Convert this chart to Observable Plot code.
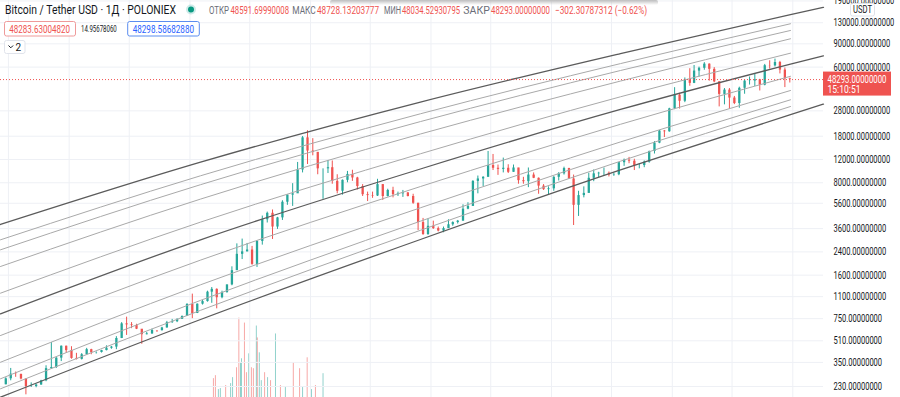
<!DOCTYPE html>
<html><head><meta charset="utf-8">
<script src="https://cdn.jsdelivr.net/npm/d3@7"></script>
<script src="https://cdn.jsdelivr.net/npm/@observablehq/plot@0.6"></script>
<style>
html,body{margin:0;padding:0;background:#fff;}
#wrap{position:relative;width:900px;height:397px;overflow:hidden;}
#wrap svg{position:absolute;left:0;top:0;}
</style></head><body><div id="wrap"></div>
<script>
// ---- semi-monthly candles, from 2015 Jun (2nd half) to 2021 Dec (2nd half), USDT ----
const firstOpen = 237;
const closes = [
 263,285,284,262,230,230,236,254,314,320,377,464,430,
 375,369,400,437,415,416,430,448,457,531,685,673,665,624,567,575,610,608,638,700,711,742,780,960,
 820,965,1010,1190,1250,1080,1180,1350,1730,2300,2400,2480,1930,2880,4200,4700,3700,4340,5700,6450,6600,10000,17500,13900,
 13600,10200,10200,10400,8200,6900,8350,9250,8700,7500,6500,6400,6350,7750,6300,7000,6500,6600,6700,6300,5600,4000,3250,3750,
 3600,3450,3600,3850,4000,4100,5050,5300,8200,8550,8800,10800,10300,10100,10300,9600,10350,8300,8150,9150,8650,7550,7100,7200,
 8800,9350,10250,8550,5400,6400,6650,8650,9350,9450,9450,9150,9200,11350,11850,11650,10800,10800,11450,13800,15950,19700,19450,29000,
 36800,33100,47900,45200,56000,58800,63200,57700,46400,37300,40200,35000,31800,41500,47000,47100,48100,43800,61500,61300,65000,57000,48900,48293
];
const highs = [
 268,315,296,285,262,245,240,256,330,495,380,466,465,
 460,410,408,447,440,420,432,467,462,548,700,770,700,680,620,590,625,610,645,715,740,745,785,975,
 1150,970,1030,1210,1290,1260,1210,1350,1850,2760,3000,2780,2640,2900,4480,4800,4980,4380,5850,6480,7880,11400,17900,19800,
 17250,13000,10200,11800,11700,9200,8400,9750,9950,8800,7750,6800,6800,8500,7750,7150,7400,6800,7000,6750,6550,5600,4300,4250,
 4100,3700,3700,4200,4050,4150,5450,5650,8300,9000,8900,13800,13100,10900,12300,10950,10900,10300,8800,10350,9500,8700,7750,7450,
 8900,9550,10500,10300,9150,6900,7450,9450,10000,9600,10350,9650,9450,11400,12100,12450,12050,11100,11700,13900,16400,19900,19900,29300,
 41950,38000,49700,58350,61700,60000,64850,63500,59500,46600,41300,41300,36000,42300,48100,50500,52900,48500,62900,67000,69000,66300,59100,49500
];
const lows = [
 237,254,270,258,199,226,225,235,250,310,315,355,410,
 370,365,365,400,400,405,412,428,440,437,530,560,630,620,480,565,570,590,605,635,690,700,740,780,
 750,820,950,1000,980,890,1060,1170,1330,1850,2100,2400,1900,1830,2700,3970,2980,3550,4150,5400,5300,7000,9500,11000,
 12800,9200,6000,9400,7800,6600,6450,8000,8200,7050,6300,5770,6100,6300,5880,6250,6150,6300,6200,6250,5500,3480,3200,3200,
 3550,3400,3350,3600,3750,3900,4100,5000,5300,6600,7500,8800,9900,9100,9500,9400,9600,7800,7800,7350,8600,6550,7000,6450,
 6900,8250,9150,8500,3800,4450,6150,6650,8150,8700,8950,8850,8950,9050,10650,11150,9900,10200,10400,11250,13200,15800,17600,19300,
 28600,28900,32300,43000,45000,50500,56800,47000,45700,30000,31100,28800,31200,29300,37400,43900,42800,39600,43300,58000,60100,53300,42000,45500
];

// ---- volume bars (relative units) ----
const volDates = ["2017-03-13","2017-03-19","2017-03-28","2017-04-03","2017-04-19","2017-05-04","2017-05-10","2017-05-22","2017-05-29","2017-06-03","2017-06-06","2017-06-15","2017-06-21","2017-06-28","2017-07-06","2017-07-12","2017-07-21","2017-07-24","2017-07-30","2017-08-05","2017-08-15","2017-08-24","2017-09-02","2017-09-17","2017-10-02","2017-10-17","2017-11-10","2017-11-29","2017-12-08","2017-12-22","2018-01-04","2018-01-16","2018-02-08"];
const volValues = [19,22,8,9,12,14,20,30,80,35,39,75,25,44,30,29,72,60,45,17,25,20,17,64,12,10,35,29,10,40,8,12,24];
const volUp = [0,0,1,1,0,1,1,0,0,1,1,0,0,1,0,0,1,0,1,1,0,1,0,1,0,1,0,0,1,0,1,0,1];

// ---- channel lines: prices read at anchor dates ----
const anchorDates = ["2015-06-07","2017-02-02","2018-11-30","2020-07-28","2021-12-25","2022-04-04"];
const topLine = [3870, 11450, 32670, 76040, 149800, 169900];
const midLine = [816, 2962, 10170, 28680, 63150, 73080];
const botLine = [190.9, 739, 2978, 9996, 26240, 31510];
const up1 = [2962, 9037, 26610, 63790, 127700];
const up2 = [2488, 7740, 23230, 56560, 113600];
const up3 = [1861, 6022, 18710, 47050, 98320];
const up4 = [1169, 4032, 13260, 35780, 76500];
const lo1 = [559, 2080, 7490, 22160, 51130];
const lo2 = [351, 1353, 5173, 16300, 39930];
const lo3 = [263, 1031, 4096, 13420, 33960];
const lo4 = [221, 867, 3495, 11650, 30210];

// ---- axis ticks ----
const yTicks = [190000,130000,90000,60000,28000,18000,12000,8000,5600,3600,2400,1600,1100,750,510,350,230];
const lastPrice = 48293;

const UP = "#26a69a", DOWN = "#ef5350";
const W = 900, H = 397, PR = 823;
const t0 = new Date("2015-06-07"), t1 = new Date("2022-04-04");

const candles = closes.map((c, i) => {
  const k = i + 1;
  const m = d3.utcMonth.offset(new Date(Date.UTC(2015, 5, 1)), Math.floor(k / 2));
  const date = d3.utcDay.offset(m, k % 2 ? 22 : 7);
  const open = i ? closes[i - 1] : firstOpen;
  return {date, open, close: c, high: highs[i], low: lows[i], up: c >= open};
});
const volRows = volDates.map((d, i) => ({date: new Date(d), v: volValues[i], up: volUp[i] === 1}));
const toRows = (name, arr) => arr.map((p, i) => ({name, date: new Date(anchorDates[i]), price: p}));
const darkRows = [...toRows("top", topLine), ...toRows("mid", midLine), ...toRows("bot", botLine)];
const lightRows = [...toRows("u1", up1), ...toRows("u2", up2), ...toRows("u3", up3), ...toRows("u4", up4),
                   ...toRows("l1", lo1), ...toRows("l2", lo2), ...toRows("l3", lo3), ...toRows("l4", lo4)];
const gridDates = d3.utcMonths(new Date("2015-07-01"), new Date("2022-03-01"), 6);

const wrap = document.getElementById("wrap");

const vol = Plot.plot({
  width: W, height: H, marginLeft: 0, marginRight: W - PR, marginTop: 0, marginBottom: 0,
  style: {background: "transparent"},
  x: {type: "utc", domain: [t0, t1], axis: null},
  y: {domain: [0, 400], axis: null},
  marks: [
    Plot.ruleX(volRows, {x: "date", y1: 0, y2: "v", stroke: d => d.up ? UP : DOWN, strokeOpacity: 0.5, strokeWidth: 1})
  ]
});
wrap.appendChild(vol);

const main = Plot.plot({
  width: W, height: H, marginLeft: 0, marginRight: W - PR, marginTop: 0, marginBottom: 0,
  style: {background: "transparent", fontFamily: "Roboto, sans-serif", fontSize: "11px", color: "#131722"},
  x: {type: "utc", domain: [t0, t1], axis: null},
  y: {type: "log", domain: [189.9, 191500], axis: null},
  marks: [
    Plot.gridX(gridDates, {stroke: "#eef0f5", strokeOpacity: 1}),
    Plot.gridY(yTicks, {stroke: "#eef0f5", strokeOpacity: 1}),
    Plot.ruleX(volRows, {x: "date", y1: 189.9, y2: 189.9, strokeOpacity: 0}),
    Plot.ruleX(candles, {x: "date", y1: "low", y2: "high", stroke: d => d.up ? UP : DOWN, strokeWidth: 1}),
    Plot.ruleX(candles, {x: "date", y1: "open", y2: "close", stroke: d => d.up ? UP : DOWN, strokeWidth: 2.3}),
    Plot.line(lightRows, {x: "date", y: "price", z: "name", stroke: "#a9a9a9", strokeWidth: 1, curve: "monotone-x"}),
    Plot.line(darkRows, {x: "date", y: "price", z: "name", stroke: "#5b5b5b", strokeWidth: 1.3, curve: "monotone-x"}),
    Plot.ruleY([lastPrice], {stroke: DOWN, strokeDasharray: "1 2", strokeWidth: 1}),
    Plot.text(yTicks, {y: d => d, frameAnchor: "right", dx: 10, textAnchor: "start", lineAnchor: "middle",
      text: d => d.toFixed(8), fill: "#131722", fontSize: 11})
  ]
});
main.querySelectorAll('g[aria-label="text"] text').forEach(t => {
  t.setAttribute("textLength", (t.textContent.length * 4.05).toFixed(1));
  t.setAttribute("lengthAdjust", "spacingAndGlyphs");
});
wrap.appendChild(main);

// ---- overlay: legend header, scale label, price label ----
const yP = main.scale("y").apply(lastPrice);
const hdr = d3.create("svg").attr("width", W).attr("height", H)
  .style("font-family", "Roboto, sans-serif").style("pointer-events", "none");
const defs = hdr.append("defs");
const g = defs.append("linearGradient").attr("id", "shade").attr("x1", 0).attr("x2", 0).attr("y1", 0).attr("y2", 1);
g.append("stop").attr("offset", 0).attr("stop-color", "#b8b8b8").attr("stop-opacity", 0.9);
g.append("stop").attr("offset", 1).attr("stop-color", "#b8b8b8").attr("stop-opacity", 0);
hdr.append("rect").attr("x", 330).attr("y", 0).attr("width", 328).attr("height", 5).attr("rx", 2).attr("fill", "url(#shade)");

function txt(s, x, y, size, fill, len, anchor) {
  const t = hdr.append("text").attr("x", x).attr("y", y).attr("font-size", size).attr("fill", fill).text(s);
  if (len) t.attr("textLength", len).attr("lengthAdjust", "spacingAndGlyphs");
  if (anchor) t.attr("text-anchor", anchor);
  return t;
}
txt("Bitcoin / Tether USD · 1Д · POLONIEX", 5, 14, 12, "#131722", 171);
hdr.append("circle").attr("cx", 191).attr("cy", 9.5).attr("r", 5).attr("fill", "#26a69a").attr("opacity", 0.22);
hdr.append("circle").attr("cx", 191).attr("cy", 9.5).attr("r", 3).attr("fill", "#089981");
const lab = "#6a6d78";
txt("ОТКР", 209, 14, 10, lab, 20);
txt("48591.69990008", 230.5, 14, 11, DOWN, 58.5);
txt("МАКС", 292.3, 14, 10, lab, 23.5);
txt("48728.13203777", 317, 14, 11, DOWN, 62);
txt("МИН", 384, 14, 10, lab, 17);
txt("48034.52930795", 402, 14, 11, DOWN, 58);
txt("ЗАКР", 463.3, 14, 10, lab, 26.5);
txt("48293.00000000", 491, 14, 11, DOWN, 59);
txt("−302.30787312 (−0.62%)", 555, 14, 11, DOWN, 92);

hdr.append("rect").attr("x", 4.5).attr("y", 21.5).attr("width", 71).attr("height", 14.5).attr("rx", 2)
  .attr("fill", "#fff").attr("stroke", "#ef9a9a");
txt("48283.63004820", 9.3, 32.5, 11, DOWN, 60.7);
txt("14.95678060", 81, 31.5, 8.5, "#131722", 35.7);
hdr.append("rect").attr("x", 127.7).attr("y", 21.5).attr("width", 71.6).attr("height", 14.5).attr("rx", 2)
  .attr("fill", "#fff").attr("stroke", "#5b8def");
txt("48298.58682880", 132.7, 32.5, 11, "#2962ff", 61.3);

hdr.append("rect").attr("x", 4.5).attr("y", 40.5).attr("width", 20.5).attr("height", 13).attr("rx", 2)
  .attr("fill", "#fff").attr("stroke", "#e0e3eb");
hdr.append("path").attr("d", "M8.5,45.5 L10.8,47.8 L13.1,45.5").attr("fill", "none").attr("stroke", "#131722").attr("stroke-width", 1);
txt("2", 15.5, 50.5, 10, "#131722");

hdr.append("rect").attr("x", 850.5).attr("y", 3.5).attr("width", 24).attr("height", 12.5).attr("rx", 2)
  .attr("fill", "#fff").attr("stroke", "#e0e3eb");
txt("USDT", 862.5, 13, 10, "#131722", 19, "middle");

hdr.append("rect").attr("x", PR).attr("y", yP - 7.5).attr("width", 68).attr("height", 24).attr("fill", DOWN);
txt("48293.00000000", 827.5, yP + 4, 11, "#fff", 59);
txt("15:10:51", 827.5, yP + 14, 11, "#fff", 33);

wrap.appendChild(hdr.node());
</script></body></html>
